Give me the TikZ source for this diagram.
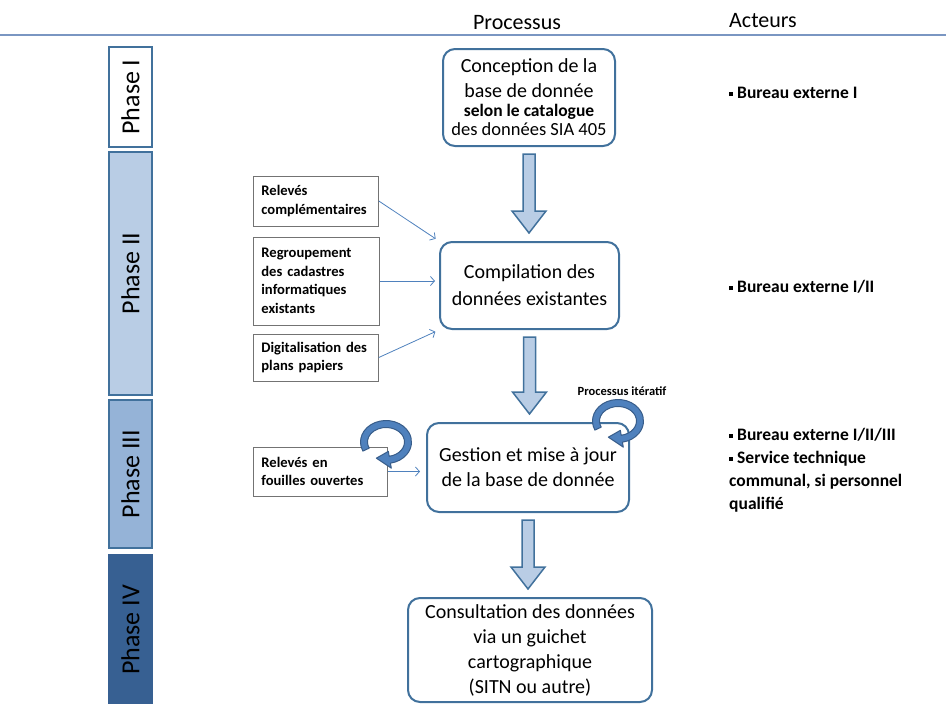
\documentclass[tikz,border=0pt]{standalone}
\usepackage{fontspec}
\setmainfont{Carlito}
\usetikzlibrary{arrows.meta, positioning, calc}
\definecolor{bordbleu}{HTML}{41719C}
\definecolor{bleuclair}{HTML}{B9CDE5}
\definecolor{bleumoyen}{HTML}{95B3D7}
\definecolor{bleufonce}{HTML}{376092}
\definecolor{bleuvif}{HTML}{4F81BD}
\definecolor{bleutrait}{HTML}{385D8A}
\definecolor{filet}{HTML}{7A96C2}
\newcommand{\puce}{\raisebox{2.5pt}{\rule{4pt}{4pt}}\hspace{4pt}}
\newcommand{\flechebloc}[2]{%
  \draw[bloc] let \p1=(#1), \p2=(#2) in
    (\x1-6pt,\y1-7pt) -- (\x1+6pt,\y1-7pt) -- (\x1+6pt,\y2+30pt) -- (\x1+17pt,\y2+30pt)
    -- (\x1,\y2+8pt) -- (\x1-17pt,\y2+30pt) -- (\x1-6pt,\y2+30pt) -- cycle;}

\begin{document}
\begin{tikzpicture}[x=1pt, y=-1pt,
    processus/.style={draw=bordbleu, line width=2pt, rounded corners=12pt, fill=white, align=center, inner sep=0pt, font=\fontsize{20}{25}\selectfont},
    tache/.style={draw=black!55, line width=0.8pt, fill=white, align=left, anchor=west, inner xsep=8pt, inner ysep=0pt, font=\bfseries\fontsize{14.6}{18.5}\selectfont},
    phase/.style={draw=bordbleu, line width=1.8pt, rotate=90, minimum height=43pt, inner sep=0pt, font=\fontsize{26}{30}\selectfont},
    acteur/.style={anchor=west, align=left, inner sep=0pt, font=\bfseries\fontsize{17.5}{23}\selectfont},
    titre/.style={font=\fontsize{22}{26}\selectfont},
    bloc/.style={draw=bordbleu, fill=bleuclair, line width=1.5pt, line join=miter},
    lien/.style={-{Straight Barb[length=4pt, width=9pt]}, draw=bleuvif, line width=0.8pt, shorten >=4pt},
    pics/boucle/.style={code={
      \begin{scope}[yscale=-1]
      \filldraw[fill=bleuvif, draw=bleutrait, line width=1pt, line join=round]
        (205:25.5 and 21.5) arc[start angle=205, end angle=-80, x radius=25.5, y radius=21.5]
        -- (-80:30.5 and 26.5) -- (-116:22 and 18) -- (-80:13.5 and 9.5)
        -- (-80:18.5 and 14.5) arc[start angle=-80, end angle=205, x radius=18.5, y radius=14.5]
        -- cycle;
      \end{scope}
    }}]
  \useasboundingbox (0,0) rectangle (946,704);

  \node[titre] (processus) at (517,23) {Processus};
  \node[titre] (acteurs) at (763,21) {Acteurs};
  \draw[filet, line width=2pt] (0,35) -- (946,35);

  \node[phase, fill=white, minimum width=100pt] (ph1) at (130.5,97) {Phase I};
  \node[phase, fill=bleuclair, minimum width=243pt] (ph2) at (130.5,273.5) {Phase II};
  \node[phase, fill=bleumoyen, minimum width=148pt] (ph3) at (130.5,474) {Phase III};
  \node[phase, fill=bleufonce, draw=bleufonce, minimum width=150pt] (ph4) at (130.5,630) {Phase IV};

  \node[processus, minimum width=172pt, minimum height=97pt] (conception) at (529,97.5)
    {Conception de la\\base de donnée\\[-6pt]{\bfseries\fontsize{17.5}{20}\selectfont selon le catalogue}\\[-6pt]{\fontsize{18.5}{20}\selectfont des données SIA 405}};
  \node[processus, minimum width=179pt, minimum height=87pt] (compilation) at (529.5,285.5)
    {Compilation des\\[2pt]données existantes};
  \node[processus, minimum width=202pt, minimum height=89pt] (gestion) at (528,467.5)
    {Gestion et mise à jour\\de la base de donnée};
  \node[processus, minimum width=244pt, minimum height=104pt] (consultation) at (530,650)
    {Consultation des données\\via un guichet\\cartographique\\(SITN ou autre)};

  \node[tache, text width=109pt, minimum height=50pt] (rc) at (253,201) {Relevés\\complémentaires};
  \node[tache, text width=110pt, minimum height=88pt] (rg) at (253,281) {Regroupement\\des cadastres\\informatiques\\existants};
  \node[tache, text width=109pt, minimum height=47pt] (dg) at (253,357.5) {Digitalisation des\\plans papiers};
  \node[tache, text width=118pt, minimum height=49pt] (rf) at (253,471.5) {Relevés en\\fouilles ouvertes};

  \flechebloc{conception.south}{compilation.north}
  \flechebloc{compilation.south}{gestion.north}
  \flechebloc{gestion.south}{consultation.north}

  \draw[lien] (rc.east) -- (compilation.north west);
  \draw[lien] (rg.east) -- (rg.east -| compilation.west);
  \draw[lien] (dg.east) -- (compilation.south west);
  \draw[lien, shorten >=6pt] (rf.east) -- (rf.east -| gestion.west);

  \node[font=\bfseries\fontsize{12.5}{15}\selectfont] (iteratif) at (622,391) {Processus itératif};
  \pic at (386,442) {boucle};
  \pic at (618,421) {boucle};

  \node[acteur] (a1) at (729,93) {\puce Bureau externe I};
  \node[acteur] (a2) at (729,287) {\puce Bureau externe I/II};
  \node[acteur, anchor=north west] (a3) at (729,428) {\puce Bureau externe I/II/III\\\puce Service technique\\communal, si personnel\\qualifié};
\end{tikzpicture}
\end{document}
